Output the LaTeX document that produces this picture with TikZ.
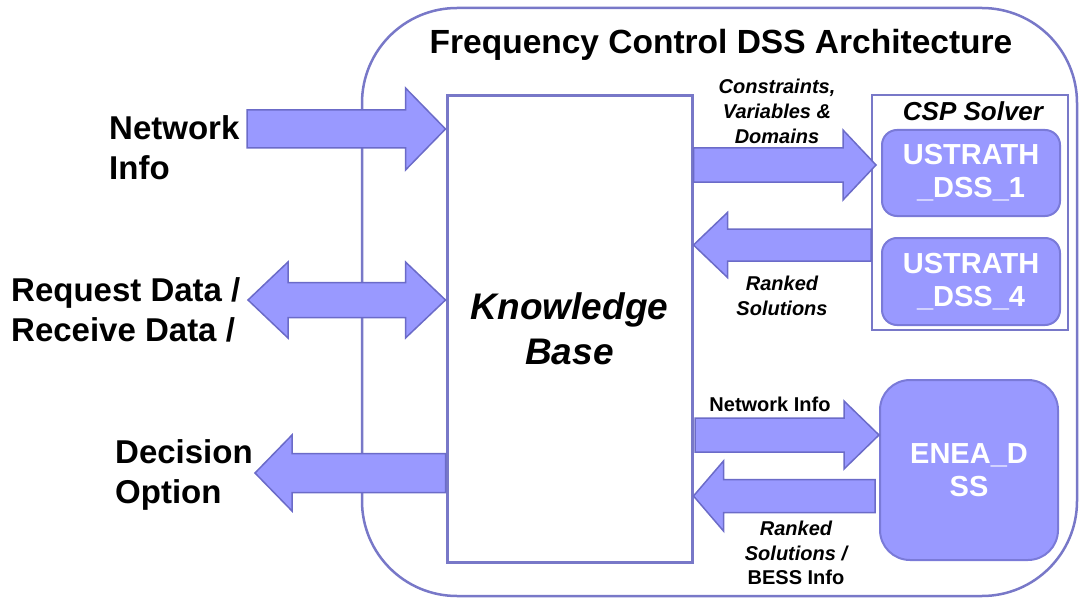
\documentclass[tikz,border=0pt]{standalone}
\usepackage{fontspec}
\setmainfont{Liberation Sans}
\usetikzlibrary{calc}
\definecolor{afill}{HTML}{9999FF}
\definecolor{aline}{HTML}{6B6BC8}
\definecolor{fline}{HTML}{7878C8}
\definecolor{bline}{HTML}{7A7AD8}
\tikzset{
  blockarrow/.style={fill=afill, draw=aline, line width=1.5pt, line join=miter},
  framebox/.style={draw=fline, line width=2.5pt, rounded corners=95pt, inner sep=0pt},
  kbbox/.style={draw=fline, line width=3pt, fill=white, inner sep=0pt, align=center,
    font=\bfseries\itshape\fontsize{37}{45}\selectfont},
  cspbox/.style={draw=fline, line width=2.5pt, fill=white, inner sep=0pt},
  dssbox/.style={draw=bline, line width=2pt, fill=afill, inner sep=0pt, align=center,
    text=white, font=\bfseries\fontsize{29}{33}\selectfont},
  biglabel/.style={align=left, inner sep=0pt, font=\bfseries\fontsize{33}{40}\selectfont},
  smalllabel/.style={align=center, inner sep=0pt, font=\bfseries\itshape\fontsize{20}{25}\selectfont},
}
% horizontal block arrow: from tail to tip, shaft half width, head half width, head length (signed)
\newcommand{\harrow}[5]{%
  \draw[blockarrow] let \p1=(#1), \p2=(#2), \n1={(#5)*1pt} in
    ({\x1},{\y1+#3pt}) -- ({\x2-\n1},{\y1+#3pt}) -- ({\x2-\n1},{\y1+#4pt}) -- ({\x2},{\y1})
    -- ({\x2-\n1},{\y1-#4pt}) -- ({\x2-\n1},{\y1-#3pt}) -- ({\x1},{\y1-#3pt}) -- cycle;}
% horizontal double block arrow: left tip, right tip
\newcommand{\dharrow}[5]{%
  \draw[blockarrow] let \p1=(#1), \p2=(#2) in
    ({\x1},{\y1}) -- ({\x1+#5pt},{\y1+#4pt}) -- ({\x1+#5pt},{\y1+#3pt}) -- ({\x2-#5pt},{\y1+#3pt})
    -- ({\x2-#5pt},{\y1+#4pt}) -- ({\x2},{\y1}) -- ({\x2-#5pt},{\y1-#4pt}) -- ({\x2-#5pt},{\y1-#3pt})
    -- ({\x1+#5pt},{\y1-#3pt}) -- ({\x1+#5pt},{\y1-#4pt}) -- cycle;}
\begin{document}
\begin{tikzpicture}[x=1pt,y=-1pt]
\useasboundingbox (0,0) rectangle (1079,599);

% outer frame (arrows are drawn over it)
\node[framebox, minimum width=715pt, minimum height=588pt] (frame) at (719.5,302) {};

% title
\node[inner sep=0pt, font=\bfseries\fontsize{33.5}{38}\selectfont] (title) at (721,45) {Frequency Control DSS Architecture};

% knowledge base
\node[kbbox, minimum width=245pt, minimum height=466pt] (kb) at (569.5,329) {Knowledge\\Base};

% CSP solver
\node[cspbox, minimum width=196pt, minimum height=235pt] (csp) at (970,212.5) {};
\node[inner sep=0pt, font=\bfseries\itshape\fontsize{26}{30}\selectfont] (csptitle) at (973,111) {CSP Solver};
\node[dssbox, rounded corners=15pt, minimum width=178pt, minimum height=86pt] (u1) at (971,173) {USTRATH\\\_DSS\_1};
\node[dssbox, rounded corners=15pt, minimum width=178pt, minimum height=87pt] (u4) at (971,281.5) {USTRATH\\\_DSS\_4};
\node[dssbox, rounded corners=30pt, minimum width=178pt, minimum height=180pt] (enea) at (969,470) {ENEA\_D\\SS};

% left labels
\node[biglabel, anchor=west] (ni) at (109,148) {Network\\Info};
\node[biglabel, anchor=west] (rd) at (11,310) {Request Data /\\Receive Data /};
\node[biglabel, anchor=west] (dop) at (115,475) {Decision\\Option};

% right labels
\node[smalllabel] (cvd) at (777,111) {Constraints,\\Variables \&\\Domains};
\node[smalllabel] (rs) at (782,295.5) {Ranked\\Solutions};
\node[inner sep=0pt, font=\bfseries\fontsize{20}{24}\selectfont] (nir) at (770,404) {Network Info};
\node[align=center, inner sep=0pt, font=\bfseries\fontsize{20}{24.5}\selectfont] (rsb) at (796,553) {\itshape Ranked\\\itshape Solutions /\\BESS Info};

% arrow end coordinates
\coordinate (a1s) at (247,129);
\coordinate (a2s) at (248,300);
\coordinate (a3e) at (255,473);
\coordinate (a4e) at (876,165);
\coordinate (a5s) at (871,245);
\coordinate (a6s) at (695,435);
\coordinate (a7s) at (875,496);

% left arrows
\harrow{a1s}{kb.west |- a1s}{19}{41}{40}
\dharrow{a2s}{kb.west |- a2s}{17.5}{38}{40}
\harrow{kb.west |- a3e}{a3e}{19.5}{38}{-37}

% right arrows
\harrow{kb.east |- a4e}{a4e}{17}{35}{33}
\harrow{a5s}{kb.east |- a5s}{16}{32.5}{-34}
\harrow{a6s}{enea.west |- a6s}{17}{34}{35}
\harrow{a7s}{kb.east |- a7s}{16.5}{35}{-30}
\end{tikzpicture}
\end{document}
